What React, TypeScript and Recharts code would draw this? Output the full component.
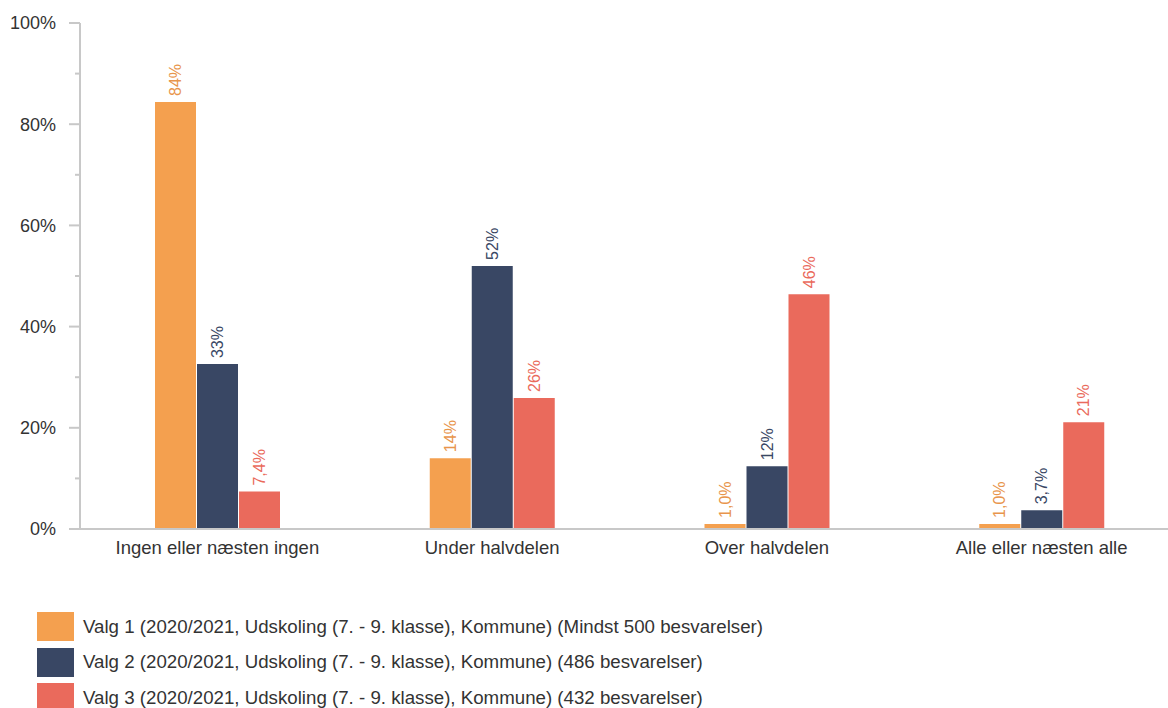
import React from 'react';
import { BarChart, Bar, XAxis, YAxis, LabelList } from 'recharts';

const categories = ['Ingen eller næsten ingen', 'Under halvdelen', 'Over halvdelen', 'Alle eller næsten alle'];
const valg1 = [84.4, 14.0, 1.0, 1.0];
const valg2 = [32.6, 52.0, 12.4, 3.7];
const valg3 = [7.4, 25.9, 46.4, 21.1];
const yTicks = [0, 10, 20, 30, 40, 50, 60, 70, 80, 90, 100];
const seriesNames = [
  'Valg 1 (2020/2021, Udskoling (7. - 9. klasse), Kommune) (Mindst 500 besvarelser)',
  'Valg 2 (2020/2021, Udskoling (7. - 9. klasse), Kommune) (486 besvarelser)',
  'Valg 3 (2020/2021, Udskoling (7. - 9. klasse), Kommune) (432 besvarelser)',
];
const colors = ['#F4A04F', '#394764', '#EA6A5C'];
const labelColors = ['#E8954C', '#394764', '#EA6A5C'];

const data = categories.map((name, i) => ({ name, v1: valg1[i], v2: valg2[i], v3: valg3[i] }));

const FONT = '"Liberation Sans", Arial, sans-serif';

const fmt = (v: number) => (v < 10 ? v.toFixed(1).replace('.', ',') : String(Math.round(v))) + '%';

const YTick = (props: any) => {
  const { x, y, payload } = props;
  const v = payload.value;
  const major = v % 20 === 0;
  return (
    <g>
      <line x1={major ? x - 11 : x - 5} x2={x} y1={y} y2={y} stroke="#c8c8c8" strokeWidth={2} />
      {major && (
        <text x={x - 24} y={y} dy="0.35em" textAnchor="end" fontSize={18} fill="#333" fontFamily={FONT}>
          {v}%
        </text>
      )}
    </g>
  );
};

const makeLabel = (color: string) => (props: any) => {
  const { x, y, width, value } = props;
  const cx = x + width / 2;
  const ty = y - 6;
  return (
    <text
      x={cx}
      y={ty}
      transform={`rotate(-90 ${cx} ${ty})`}
      textAnchor="start"
      dy="0.35em"
      fontSize={16}
      fill={color}
      fontFamily={FONT}
    >
      {fmt(value)}
    </text>
  );
};

export default function App() {
  return (
    <div
      style={{
        position: 'absolute',
        left: 0,
        top: 0,
        width: 1168,
        height: 708,
        overflow: 'hidden',
        background: '#fff',
        fontFamily: FONT,
      }}
    >
      <BarChart
        width={1179}
        height={560}
        data={data}
        margin={{ top: 23, right: 0, left: 0, bottom: 0 }}
        barGap={1}
        barSize={41}
      >
        <XAxis
          dataKey="name"
          interval={0}
          tickLine={false}
          tickSize={6}
          tickMargin={6}
          axisLine={{ stroke: '#c8c8c8', strokeWidth: 2 }}
          tick={{ fontSize: 18.5, fill: '#333', fontFamily: FONT }}
          height={31}
        />
        <YAxis
          width={80}
          domain={[0, 100]}
          ticks={yTicks}
          interval={0}
          tickLine={false}
          tickSize={0}
          tickMargin={0}
          axisLine={{ stroke: '#c8c8c8', strokeWidth: 2 }}
          tick={<YTick />}
        />
        <Bar dataKey="v1" fill={colors[0]} isAnimationActive={false}>
          <LabelList dataKey="v1" content={makeLabel(labelColors[0])} />
        </Bar>
        <Bar dataKey="v2" fill={colors[1]} isAnimationActive={false}>
          <LabelList dataKey="v2" content={makeLabel(labelColors[1])} />
        </Bar>
        <Bar dataKey="v3" fill={colors[2]} isAnimationActive={false}>
          <LabelList dataKey="v3" content={makeLabel(labelColors[2])} />
        </Bar>
      </BarChart>
      {seriesNames.map((s, i) => (
        <div
          key={s}
          style={{
            position: 'absolute',
            left: 37,
            top: 612 + i * 35.5,
            height: 29,
            display: 'flex',
            alignItems: 'center',
            whiteSpace: 'nowrap',
          }}
        >
          <div style={{ width: 37, height: 29, background: colors[i] }} />
          <span style={{ marginLeft: 9, fontSize: 18.7, color: '#333', fontFamily: FONT }}>{s}</span>
        </div>
      ))}
    </div>
  );
}
